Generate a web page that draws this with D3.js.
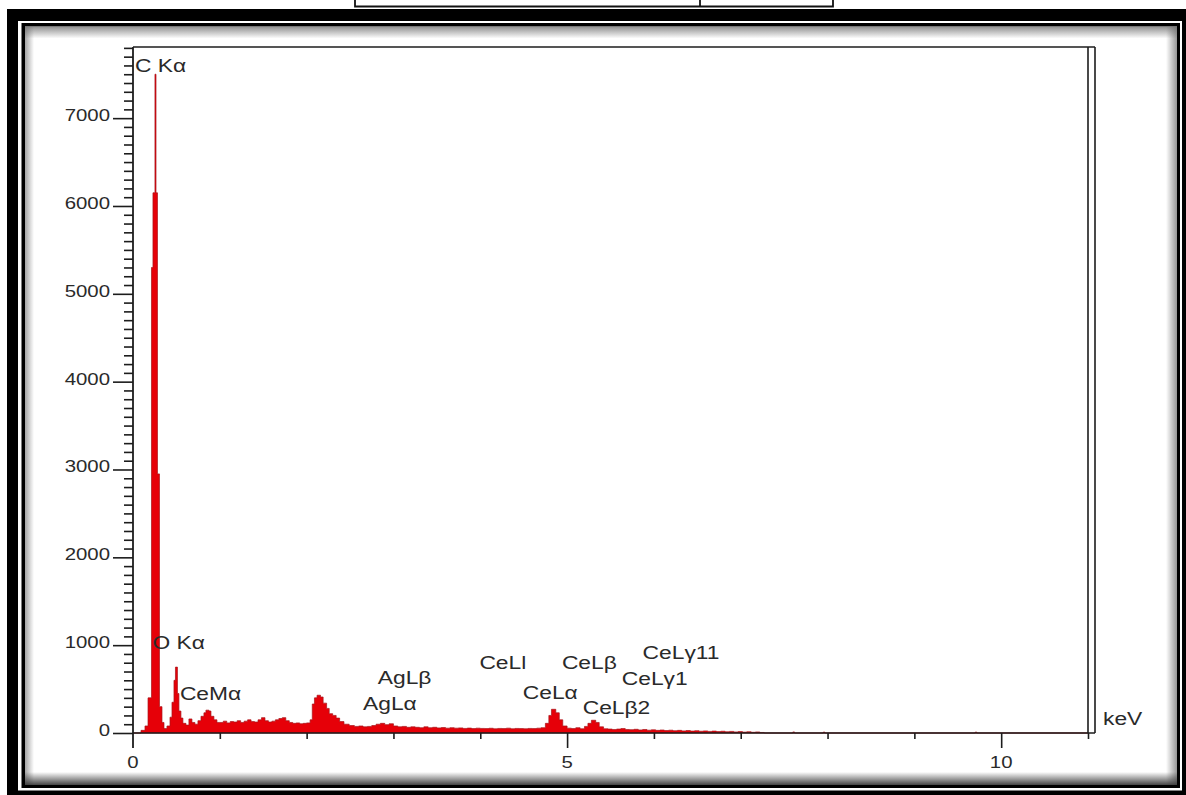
<!DOCTYPE html>
<html>
<head>
<meta charset="utf-8">
<script src="https://cdn.jsdelivr.net/npm/d3@7"></script>
<style>
  html, body { margin: 0; padding: 0; background: #fff; }
  svg { display: block; }
</style>
</head>
<body>
<svg id="chart" width="1186" height="795"></svg>
<script>
// EDS spectrum: channel start energy (keV) and counts held until the next channel
const energyKeV = [
  0.000, 0.092, 0.138, 0.173, 0.213, 0.230, 0.253, 0.265, 0.282, 0.305,
  0.334, 0.357, 0.391, 0.426, 0.449, 0.472, 0.489, 0.512, 0.529, 0.552,
  0.575, 0.610, 0.644, 0.679, 0.713, 0.748, 0.783, 0.817, 0.840, 0.875,
  0.898, 0.932, 0.967,
  1.00, 1.04, 1.08, 1.12, 1.16, 1.20, 1.24, 1.28, 1.32, 1.36,
  1.40, 1.44, 1.48, 1.52, 1.56, 1.60, 1.64, 1.68, 1.72, 1.76,
  1.80, 1.84, 1.88, 1.92, 1.96, 2.00, 2.04, 2.065, 2.09, 2.12,
  2.16, 2.19, 2.23, 2.26, 2.30, 2.34, 2.38, 2.43, 2.49, 2.55,
  2.60, 2.65, 2.70, 2.75, 2.80, 2.85, 2.90, 2.95, 3.00, 3.05,
  3.10, 3.15, 3.20, 3.25, 3.30, 3.35, 3.40, 3.45, 3.50, 3.55,
  3.60, 3.65, 3.70, 3.75, 3.80, 3.85, 3.90, 3.95, 4.00, 4.05,
  4.10, 4.15, 4.20, 4.25, 4.30, 4.35, 4.40, 4.45, 4.50, 4.55,
  4.60, 4.65, 4.70, 4.75, 4.79, 4.82, 4.87, 4.91, 4.95, 5.00,
  5.05, 5.10, 5.15, 5.20, 5.24, 5.28, 5.33, 5.37, 5.42, 5.47,
  5.52, 5.57, 5.62, 5.67, 5.72, 5.77, 5.82, 5.87, 5.92, 5.97,
  6.02, 6.07, 6.12, 6.17, 6.22, 6.27, 6.32, 6.37, 6.42, 6.47,
  6.52, 6.57, 6.62, 6.67, 6.72, 6.77, 6.82, 6.87, 6.92, 6.97,
  7.02, 7.07, 7.12, 7.17, 7.22, 7.27, 7.60, 7.62, 7.95, 7.97,
  9.70, 9.72, 11.00
];
const counts = [
  0, 30, 80, 400, 5300, 6150, 7500, 6150, 2950, 300,
  120, 50, 80, 180, 350, 600, 750, 450, 250, 170,
  110, 90, 160, 120, 100, 140, 190, 230, 260, 250,
  190, 150, 120,
  120, 135, 115, 130, 125, 140, 120, 135, 150, 130,
  125, 150, 175, 140, 125, 135, 150, 165, 175, 140,
  120, 110, 115, 105, 110, 115, 150, 330, 400, 430,
  410, 340, 280, 220, 200, 170, 130, 100, 85, 75,
  80, 70, 75, 85, 100, 110, 95, 105, 80, 70,
  75, 65, 70, 65, 60, 70, 60, 65, 58, 62,
  55, 60, 55, 58, 52, 56, 50, 55, 52, 50,
  54, 48, 52, 50, 55, 48, 52, 50, 48, 52,
  50, 55, 60, 110, 200, 270, 230, 150, 80, 55,
  50, 60, 48, 75, 110, 145, 120, 70, 48, 45,
  40, 45, 50, 40, 38, 42, 35, 40, 32, 36,
  30, 34, 28, 32, 26, 30, 24, 28, 22, 26,
  20, 24, 18, 22, 16, 20, 14, 18, 12, 16,
  10, 14, 8, 12, 6, 0, 12, 0, 10, 0,
  10, 0, 0
];

// Axis ticks
const xMajorTicks = [0, 5, 10];
const xMinorTicks = [1, 2, 3, 4, 6, 7, 8, 9, 11];
const yMajorTicks = [0, 1000, 2000, 3000, 4000, 5000, 6000, 7000];
const yMinorStep = 100;
const xAxisTitle = "keV";

// Peak identifications, anchored at (keV, counts) of the label's left baseline
const peakNames  = ["C K\u03b1", "O K\u03b1", "CeM\u03b1", "AgL\u03b2", "AgL\u03b1", "CeLl", "CeL\u03b2", "CeL\u03b1", "CeL\u03b22", "CeL\u03b31", "CeL\u03b311"];
const peakLabelE = [0.023, 0.225, 0.54, 2.82, 2.65, 3.99, 4.94, 4.49, 5.18, 5.63, 5.87];
const peakLabelC = [7525, 956, 376, 558, 262, 729, 729, 387, 216, 546, 842];

const svg = d3.select("#chart");
const W = 1186, H = 795;

// ---- picture frame ----
const defs = svg.append("defs");
function grad(id, x1, y1, x2, y2, c, o0, o1) {
  const g = defs.append("linearGradient").attr("id", id)
    .attr("x1", x1).attr("y1", y1).attr("x2", x2).attr("y2", y2);
  g.append("stop").attr("offset", "0%").attr("stop-color", c).attr("stop-opacity", o0);
  g.append("stop").attr("offset", "100%").attr("stop-color", c).attr("stop-opacity", o1);
}
grad("shTop", 0, 0, 0, 1, "#6a6a6a", 0.75, 0);
grad("shLeft", 0, 0, 1, 0, "#6a6a6a", 0.6, 0);
grad("shRight", 1, 0, 0, 0, "#6a6a6a", 0.7, 0);
grad("shBottom", 0, 1, 0, 0, "#3a3a3a", 0.95, 0);

svg.append("rect").attr("x", 7).attr("y", 9).attr("width", W - 7).attr("height", H - 9).attr("fill", "#000");
svg.append("rect").attr("x", 18).attr("y", 21).attr("width", 1182 - 18).attr("height", 790.5 - 21).attr("fill", "#fff");
svg.append("rect").attr("x", 21.5).attr("y", 23).attr("width", 1180 - 21.5).attr("height", 788 - 23).attr("fill", "#000");
const px0 = 25, py0 = 26.5, px1 = 1177, py1 = 785;
svg.append("rect").attr("x", px0).attr("y", py0).attr("width", px1 - px0).attr("height", py1 - py0).attr("fill", "#fff");
svg.append("rect").attr("x", px0).attr("y", py0).attr("width", px1 - px0).attr("height", 12).attr("fill", "url(#shTop)");
svg.append("rect").attr("x", px0).attr("y", py0).attr("width", 9).attr("height", py1 - py0).attr("fill", "url(#shLeft)");
svg.append("rect").attr("x", px1 - 11).attr("y", py0).attr("width", 11).attr("height", py1 - py0).attr("fill", "url(#shRight)");
svg.append("rect").attr("x", px0).attr("y", py1 - 13).attr("width", px1 - px0).attr("height", 13).attr("fill", "url(#shBottom)");

// small table edge above the frame
const tab = svg.append("g").attr("stroke", "#111").attr("stroke-width", 1.8).attr("fill", "none");
tab.append("path").attr("d", "M355,0 V6.5 H833 V0 M700,0 V6.5");

// ---- plot ----
const x = d3.scaleLinear().domain([0, 11]).range([133, 1088]);
const y = d3.scaleLinear().domain([0, 7810]).range([733, 47]);
const ink = "#1c1c1c";

const spectrum = energyKeV.map((e, i) => ({ e, c: counts[i] }));
const area = d3.area()
  .curve(d3.curveStepAfter)
  .x(d => x(d.e))
  .y0(y(0))
  .y1(d => y(d.c));

svg.append("path")
  .datum(spectrum)
  .attr("d", area)
  .attr("fill", "#e60008")
  .attr("stroke", "#a8141a")
  .attr("stroke-width", 0.7)
  .attr("stroke-linejoin", "miter");

// plot border: top, bottom and the doubled right edge
const frame = svg.append("g").attr("stroke", ink).attr("stroke-width", 1.6).attr("fill", "none");
frame.append("line").attr("x1", x(0)).attr("x2", x(11) + 7).attr("y1", y.range()[1]).attr("y2", y.range()[1]);
frame.append("line").attr("x1", x(0)).attr("x2", x(11) + 7).attr("y1", y(0)).attr("y2", y(0));
frame.append("line").attr("x1", x(11)).attr("x2", x(11)).attr("y1", y.range()[1]).attr("y2", y(0));
frame.append("line").attr("x1", x(11) + 7).attr("x2", x(11) + 7).attr("y1", y.range()[1]).attr("y2", y(0));

// y axis
const yMinor = d3.range(0, 7810, yMinorStep).filter(v => v % 1000 !== 0);
const yAxisMinor = d3.axisLeft(y).tickValues(yMinor).tickSize(9).tickFormat("");
const yAxisMajor = d3.axisLeft(y).tickValues(yMajorTicks).tickSize(20).tickFormat("");
[yAxisMinor, yAxisMajor].forEach(ax => {
  const g = svg.append("g").attr("transform", `translate(${x(0)},0)`).call(ax);
  g.select(".domain").remove();
  g.selectAll("line").attr("stroke", ink).attr("stroke-width", 1.6);
});
svg.append("line").attr("x1", x(0)).attr("x2", x(0)).attr("y1", y.range()[1]).attr("y2", y(0) + 15)
  .attr("stroke", ink).attr("stroke-width", 1.8);

svg.append("g").selectAll("g").data(yMajorTicks).join("g")
  .attr("transform", d => `translate(${x(0) - 23},${y(d) + 3}) scale(1.2,1)`)
  .append("text")
  .attr("text-anchor", "end")
  .attr("font-family", "'Liberation Sans', Arial, sans-serif")
  .attr("font-size", 17)
  .attr("fill", "#2a2a2a")
  .text(d => d);

// x axis
const xAxisMinor = d3.axisBottom(x).tickValues(xMinorTicks).tickSize(6).tickFormat("");
const xAxisMajor = d3.axisBottom(x).tickValues(xMajorTicks.filter(v => v > 0)).tickSize(15).tickFormat("");
[xAxisMinor, xAxisMajor].forEach(ax => {
  const g = svg.append("g").attr("transform", `translate(0,${y(0)})`).call(ax);
  g.select(".domain").remove();
  g.selectAll("line").attr("stroke", ink).attr("stroke-width", 1.6);
});

svg.append("g").selectAll("g").data(xMajorTicks).join("g")
  .attr("transform", d => `translate(${x(d)},${y(0) + 35}) scale(1.2,1)`)
  .append("text")
  .attr("text-anchor", "middle")
  .attr("font-family", "'Liberation Sans', Arial, sans-serif")
  .attr("font-size", 17)
  .attr("fill", "#2a2a2a")
  .text(d => d);

svg.append("g")
  .attr("transform", `translate(${x(11) + 15},${y(0) - 8}) scale(1.2,1)`)
  .append("text")
  .attr("font-family", "'Liberation Sans', Arial, sans-serif")
  .attr("font-size", 19)
  .attr("fill", "#2a2a2a")
  .text(xAxisTitle);

// peak labels
svg.append("g").selectAll("g").data(peakNames).join("g")
  .attr("transform", (d, i) => `translate(${x(peakLabelE[i])},${y(peakLabelC[i])}) scale(1.2,1)`)
  .append("text")
  .attr("font-family", "'Liberation Sans', Arial, sans-serif")
  .attr("font-size", 19)
  .attr("fill", "#2a2a2a")
  .text(d => d);
</script>
</body>
</html>
